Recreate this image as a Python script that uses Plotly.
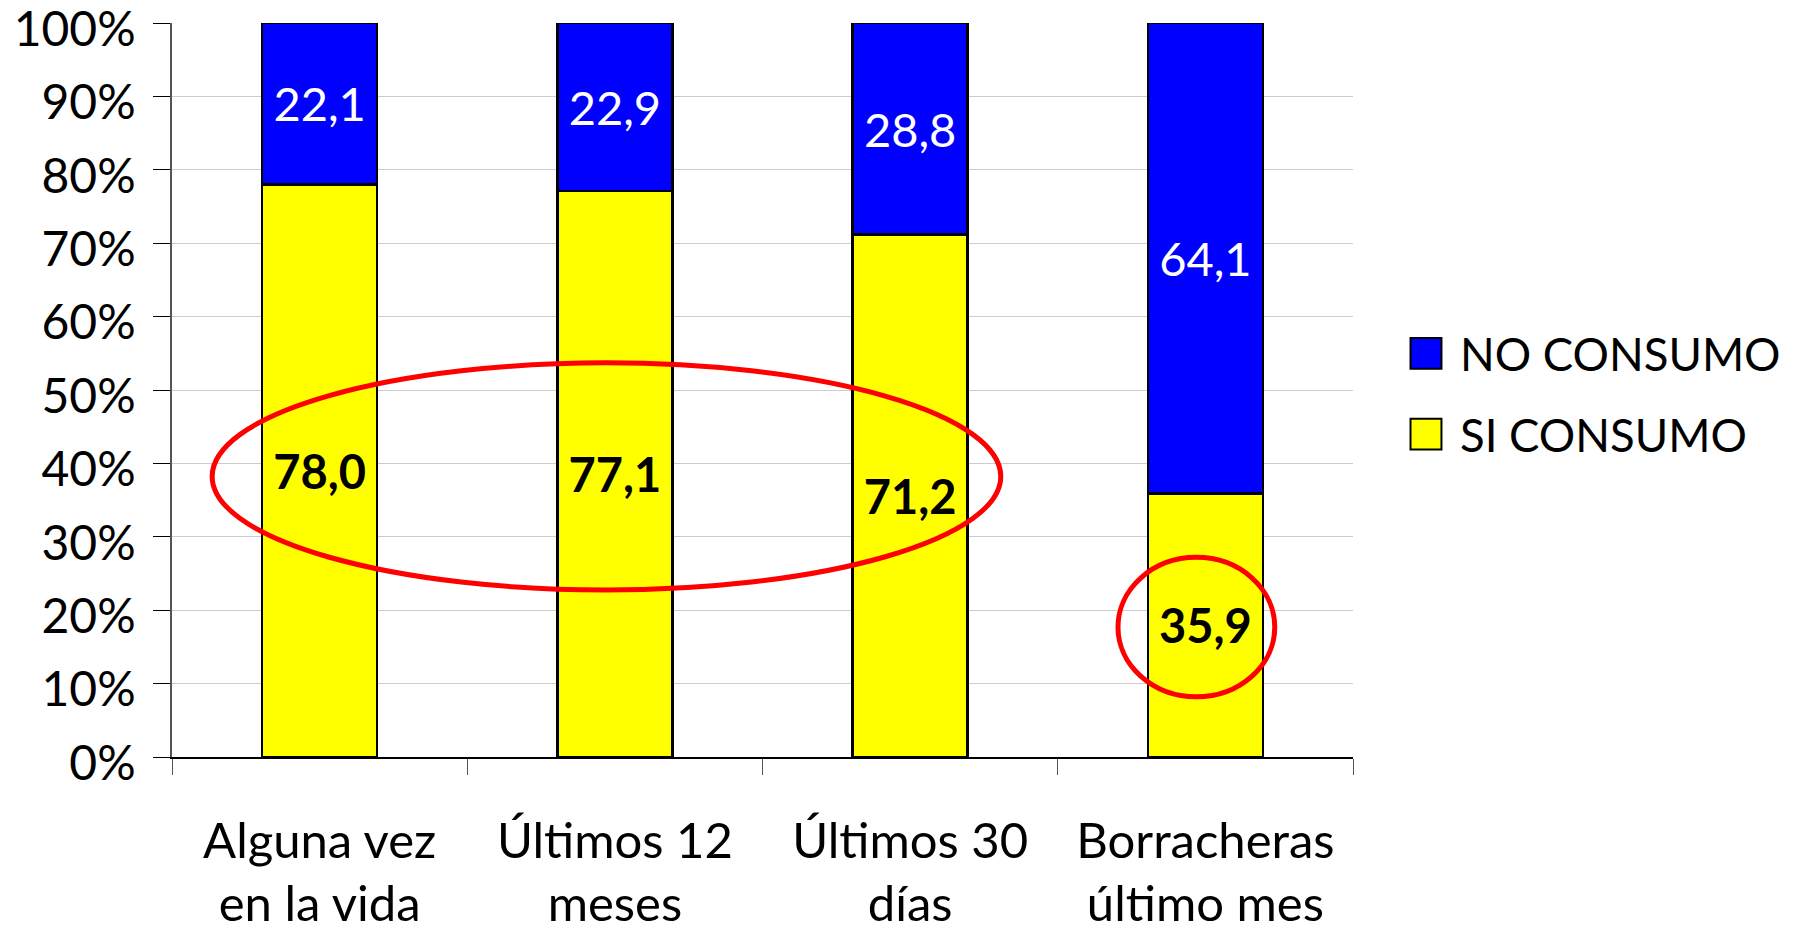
import plotly.graph_objects as go

categories = ["Alguna vez<br>en la vida", "Últimos 12<br>meses", "Últimos 30<br>días", "Borracheras<br>último mes"]
si_consumo = [78.0, 77.1, 71.2, 35.9]
no_consumo = [22.1, 22.9, 28.8, 64.1]
series_names = ["NO CONSUMO", "SI CONSUMO"]
y_ticks = list(range(0, 101, 10))
y_tick_labels = [f"{v}%" for v in y_ticks]

FONT = "Lato"
BLUE = "#0000ff"
YELLOW = "#ffff00"
RED = "#ff0000"

fig = go.Figure()
fig.add_trace(go.Bar(
    x=categories, y=si_consumo, name=series_names[1],
    marker={"color": YELLOW, "line": {"color": "black", "width": 2.5}},
    texttemplate="%{y:.1f}", textposition="inside", insidetextanchor="middle",
    textfont={"family": FONT, "size": 47, "color": "black", "weight": "bold"},
    showlegend=False,
))
fig.add_trace(go.Bar(
    x=categories, y=no_consumo, name=series_names[0],
    marker={"color": BLUE, "line": {"color": "black", "width": 2.5}},
    texttemplate="%{y:.1f}", textposition="inside", insidetextanchor="middle",
    textfont={"family": FONT, "size": 47, "color": "white"},
    showlegend=False,
))

# red highlight ellipses
fig.add_shape(type="circle", xref="x", yref="y", x0=-0.364, x1=2.307, y0=22.75, y1=53.7,
              line={"color": RED, "width": 5})
fig.add_shape(type="circle", xref="x", yref="y", x0=2.704, x1=3.235, y0=8.2, y1=27.2,
              line={"color": RED, "width": 5})

# legend drawn by hand so the swatches are as big as the original
legend_rows = [(series_names[0], BLUE, 0.55), (series_names[1], YELLOW, 0.44)]
for name, color, yc in legend_rows:
    fig.add_shape(type="rect", xref="paper", yref="paper",
                  x0=1.0487, x1=1.0749, y0=yc - 0.021, y1=yc + 0.021,
                  fillcolor=color, line={"color": "black", "width": 2})
    fig.add_annotation(text=name, xref="paper", yref="paper", x=1.089, y=yc,
                       xanchor="left", yanchor="middle", showarrow=False,
                       font={"family": FONT, "size": 45.5, "color": "black"})

# page body adds an 8px offset, so margins are trimmed by that much
fig.update_layout(
    barmode="stack",
    bargap=0.61,
    width=1794, height=933,
    margin={"l": 164, "r": 449, "t": 15, "b": 184, "autoexpand": False},
    paper_bgcolor="white", plot_bgcolor="white",
    separators=",.",
    font={"family": FONT, "size": 48, "color": "black"},
    showlegend=False,
)
fig.update_xaxes(
    automargin=False,
    showline=True, linecolor="black", linewidth=1.5,
    ticks="outside", tickson="boundaries", ticklen=16, tickcolor="#555555",
    tickfont={"family": FONT, "size": 49}, ticklabelstandoff=40,
)
fig.update_yaxes(
    automargin=False,
    range=[0, 100], tickmode="array", tickvals=y_ticks, ticktext=y_tick_labels,
    ticklabeloverflow="allow",
    showgrid=True, gridcolor="#cccccc", gridwidth=1,
    showline=True, linecolor="#555555", linewidth=1.5,
    ticks="outside", ticklen=17, tickcolor="black",
    tickfont={"family": FONT, "size": 48}, ticklabelstandoff=8, ticklabelshift=6,
    zeroline=False,
)

fig.write_html("out.html")
